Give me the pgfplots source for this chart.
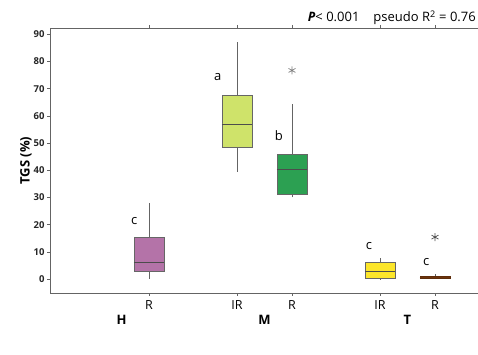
\documentclass[border=0pt]{standalone}
\usepackage{pgfplots}
\pgfplotsset{compat=1.18}
\usepgfplotslibrary{statistics}
\usepackage{fontspec}
\setmainfont{Open Sans}
\definecolor{hpurple}{RGB}{180,115,168}
\definecolor{mlime}{RGB}{207,227,106}
\definecolor{mgreen}{RGB}{44,160,82}
\definecolor{tyellow}{RGB}{252,230,42}
\definecolor{tbrown}{RGB}{156,74,16}
\definecolor{axgray}{RGB}{100,100,100}
\begin{document}
\begin{tikzpicture}
\useasboundingbox (0,0) rectangle (478pt,355pt);
\clip (0,0) rectangle (478pt,355pt);
\begin{axis}[
  at={(50pt,62pt)}, anchor=south west,
  scale only axis, width=440pt, height=265pt,
  xmin=-0.8, xmax=7.2, ymin=-5.15, ymax=92.3,
  axis line style={axgray, line width=0.8pt},
  xtick={1,2.6,3.6,5.2,6.2},
  xticklabels={R,IR,R,IR,R},
  ytick={0,10,...,90},
  tick align=outside,
  major tick length=3pt,
  tick style={axgray, line width=0.6pt},
  x tick label style={font=\fontsize{12.5}{13}\selectfont, yshift=-1pt},
  y tick label style={font=\fontsize{9.5}{10}\selectfont\bfseries, text=black!85, xshift=1pt},
  /pgf/number format/assume math mode=true,
  ylabel={\fontsize{13}{14}\selectfont\bfseries TGS (\%)},
  ylabel style={yshift=-5pt},
  clip=false,
  boxplot/draw direction=y,
  boxplot/every whisker/.style={draw=axgray, line width=0.6pt},
  boxplot/every median/.style={draw=black!70, line width=0.9pt},
  boxplot/every box/.style={draw=black!60, line width=0.6pt},
]
\addplot[boxplot prepared={draw position=1, lower whisker=0, lower quartile=3, median=6, upper quartile=15.4, upper whisker=28, box extend=0.55, whisker extend=0}, fill=hpurple, draw=black!60] coordinates {};
\addplot[boxplot prepared={draw position=2.6, lower whisker=39.4, lower quartile=48.3, median=57, upper quartile=67.6, upper whisker=87, box extend=0.55, whisker extend=0}, fill=mlime, draw=black!60] coordinates {};
\addplot[boxplot prepared={draw position=3.6, lower whisker=30, lower quartile=31.2, median=40.3, upper quartile=45.8, upper whisker=64.2, box extend=0.55, whisker extend=0}, fill=mgreen, draw=black!60, mark=asterisk, mark size=4pt, mark options={draw=gray, line width=0.7pt}] coordinates {(0,76.7)};
\addplot[boxplot prepared={draw position=5.2, lower whisker=0, lower quartile=0.1, median=2.8, upper quartile=6.1, upper whisker=7.8, box extend=0.55, whisker extend=0}, fill=tyellow, draw=black!60] coordinates {};
\addplot[boxplot prepared={draw position=6.2, lower whisker=0.2, lower quartile=0.2, median=0.7, upper quartile=1.1, upper whisker=1.7, box extend=0.55, whisker extend=0, every median/.style={draw=tbrown!70!black, line width=0.5pt}, every box/.style={draw=tbrown!60!black, line width=0.5pt}}, fill=tbrown, draw=tbrown!60!black, mark=asterisk, mark size=4pt, mark options={draw=black!70, line width=0.7pt}] coordinates {(0,15.4)};
\node[font=\fontsize{13}{14}\selectfont] at (axis cs:0.73,21.3) {c};
\node[font=\fontsize{13}{14}\selectfont] at (axis cs:2.25,74.3) {a};
\node[font=\fontsize{13}{14}\selectfont] at (axis cs:3.36,52.8) {b};
\node[font=\fontsize{13}{14}\selectfont] at (axis cs:5.0,12) {c};
\node[font=\fontsize{13}{14}\selectfont] at (axis cs:6.04,6.1) {c};
\node[font=\fontsize{13}{14}\selectfont\bfseries, anchor=base] at (axis cs:0.5,-5.15) [yshift=-32pt] {H};
\node[font=\fontsize{13}{14}\selectfont\bfseries, anchor=base] at (axis cs:3.1,-5.15) [yshift=-32pt] {M};
\node[font=\fontsize{13}{14}\selectfont\bfseries, anchor=base] at (axis cs:5.7,-5.15) [yshift=-32pt] {T};
\end{axis}
\node[anchor=base east, font=\fontsize{13}{14}\selectfont, inner sep=0pt] at (476pt,333pt) {\textit{\bfseries P}< 0.001\hspace{14pt}pseudo R\textsuperscript{2} = 0.76};
\end{tikzpicture}
\end{document}
